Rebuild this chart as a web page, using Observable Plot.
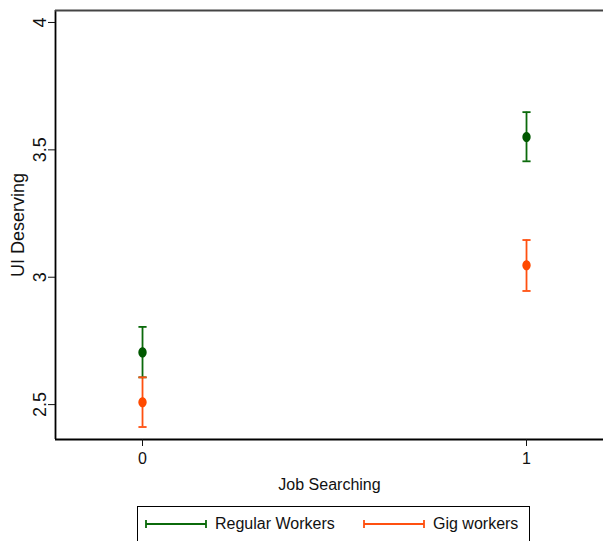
<!DOCTYPE html>
<html>
<head>
<meta charset="utf-8">
<script src="https://cdn.jsdelivr.net/npm/d3@7"></script>
<script src="https://cdn.jsdelivr.net/npm/@observablehq/plot@0.6"></script>
<style>
  html, body { margin: 0; padding: 0; background: #fff; }
  body { width: 603px; height: 541px; position: relative; overflow: hidden;
         font-family: "Liberation Sans", Arial, sans-serif; }
  #legend { position: absolute; left: 137px; top: 506px; width: 393px; height: 44px;
            border: 1px solid #000; box-sizing: border-box; font-size: 16px; color: #111; }
  .item { position: absolute; top: 8px; display: flex; align-items: center; white-space: nowrap; }
  .item svg { margin-right: 8px; }
</style>
</head>
<body>
<div id="chart"></div>
<div id="legend"></div>
<script>
// ---- data ----
const groups = ["Regular Workers", "Gig workers"];
const groupColors = ["#0b6a0b", "#ff5010"];
const pointColors = ["#005800", "#ff4a00"];
const jobSearching = [0, 1];
const regularMean = [2.705, 3.550];
const regularLo   = [2.607, 3.455];
const regularHi   = [2.805, 3.648];
const gigMean = [2.509, 3.047];
const gigLo   = [2.412, 2.946];
const gigHi   = [2.607, 3.146];
const yTicks = [2.5, 3, 3.5, 4];
const xTicks = [0, 1];
const yDomain = [2.363, 4.047];
const xDomain = [-0.2266, 1.2005];

const rows = [];
jobSearching.forEach((x, i) => {
  rows.push({x, group: groups[0], mean: regularMean[i], lo: regularLo[i], hi: regularHi[i]});
  rows.push({x, group: groups[1], mean: gigMean[i], lo: gigLo[i], hi: gigHi[i]});
});
const caps = rows.flatMap(d => [{x: d.x, group: d.group, y: d.lo}, {x: d.x, group: d.group, y: d.hi}]);

const capSymbol = {
  draw(ctx, size) {
    const w = Math.sqrt(size) / 2;
    ctx.moveTo(-w, 0);
    ctx.lineTo(w, 0);
  }
};
// slightly tall ellipse for the point markers
const ellipseSymbol = {
  draw(ctx, size) {
    const r = Math.sqrt(size / Math.PI);
    const rx = r * 0.9, ry = r * 1.1, k = 0.5523;
    ctx.moveTo(rx, 0);
    ctx.bezierCurveTo(rx, ry * k, rx * k, ry, 0, ry);
    ctx.bezierCurveTo(-rx * k, ry, -rx, ry * k, -rx, 0);
    ctx.bezierCurveTo(-rx, -ry * k, -rx * k, -ry, 0, -ry);
    ctx.bezierCurveTo(rx * k, -ry, rx, -ry * k, rx, 0);
    ctx.closePath();
  }
};

const font = "'Liberation Sans', Arial, sans-serif";

const chart = Plot.plot({
  width: 603,
  height: 500,
  marginTop: 10,
  marginBottom: 61,
  marginLeft: 55,
  marginRight: 0,
  style: {fontFamily: font, fontSize: "16px", color: "#111", background: "#fff"},
  x: {domain: xDomain},
  y: {domain: yDomain},
  color: {domain: groups, range: groupColors},
  marks: [
    Plot.ruleX([xDomain[0]], {stroke: "#000", strokeWidth: 1.8}),
    Plot.ruleY([yDomain[0]], {stroke: "#000", strokeWidth: 2}),
    Plot.ruleY([yDomain[1]], {stroke: "#444", strokeWidth: 2}),
    Plot.axisX({ticks: xTicks, tickSize: 7, tickPadding: 6, fontSize: 16, tickFormat: d => String(d),
                label: "Job Searching", labelAnchor: "center", labelArrow: "none", labelOffset: 50}),
    Plot.axisY({ticks: yTicks, tickSize: 7, tickPadding: 3, fontSize: 18, tickRotate: -90,
                tickFormat: d => String(d),
                label: "UI Deserving", labelAnchor: "center", labelArrow: "none", labelOffset: 44}),
    Plot.ruleX(rows, {x: "x", y1: "lo", y2: "hi", stroke: "group", strokeWidth: 1.8}),
    Plot.dot(caps, {x: "x", y: "y", symbol: capSymbol, r: 4.6, stroke: "group", strokeWidth: 1.8, fill: "none"}),
    Plot.dot(rows, {x: "x", y: "mean", r: 4.6, symbol: ellipseSymbol,
                    fill: d => pointColors[groups.indexOf(d.group)], stroke: "none"})
  ]
});
document.getElementById("chart").appendChild(chart);

// ---- legend ----
const legend = document.getElementById("legend");
const lefts = [7, 225];
groups.forEach((g, i) => {
  const item = document.createElement("div");
  item.className = "item";
  item.style.left = lefts[i] + "px";
  const c = groupColors[i];
  item.innerHTML = `<svg width="62" height="12"><line x1="1" y1="6" x2="61" y2="6" stroke="${c}" stroke-width="1.8"/>` +
    `<line x1="1" y1="2" x2="1" y2="10" stroke="${c}" stroke-width="1.8"/>` +
    `<line x1="61" y1="2" x2="61" y2="10" stroke="${c}" stroke-width="1.8"/></svg><span>${g}</span>`;
  legend.appendChild(item);
});
</script>
</body>
</html>
